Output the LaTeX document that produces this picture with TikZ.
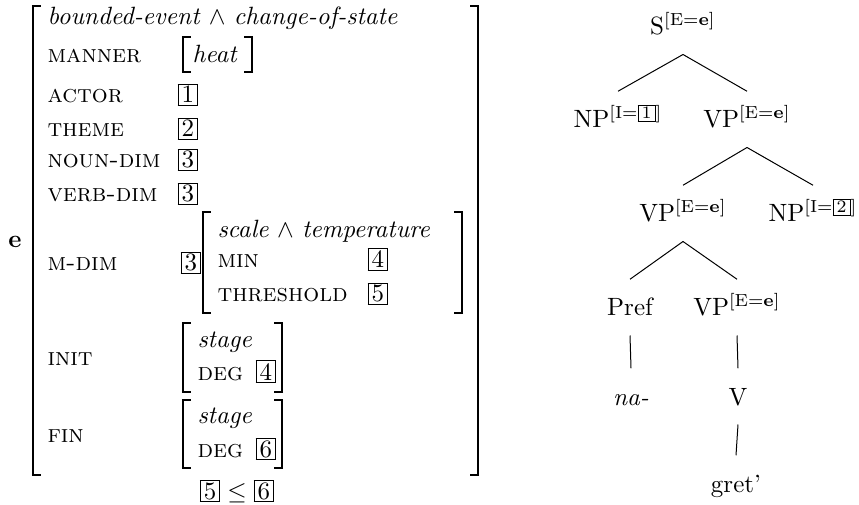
\documentclass[tikz,border=0pt]{standalone}
\usepackage{amsmath}
\usepackage{amssymb}
\usepackage{tikz}
\usetikzlibrary{positioning}
\tikzset{
	lbl/.style={inner sep=0pt, anchor=base west},
	tnode/.style={inner sep=0pt, anchor=base, text height=14.5pt, text depth=7.6pt},
	stem/.style={line width=1pt},
	hook/.style={line width=0.45pt}
}
\newcommand{\tagbox}[1]{{\fboxsep=0.7pt\fboxrule=0.4pt\fbox{\hspace{0.5pt}#1\hspace{0.5pt}}}}
% left x, right x, top y, bottom y
\newcommand{\avmbracks}[4]{%
	\draw[stem] (#1,#3) -- (#1,#4);
	\draw[hook] (#1-1.2,#3) -- (#1+8,#3) (#1-1.2,#4) -- (#1+8,#4);
	\draw[stem] (#2,#3) -- (#2,#4);
	\draw[hook] (#2+1.2,#3) -- (#2-8,#3) (#2+1.2,#4) -- (#2-8,#4);
}

\begin{document}
\begin{tikzpicture}[x=0.4pt,y=-0.4pt]
\useasboundingbox (0,0) rectangle (859,505);

%AVM
\node[inner sep=0pt, anchor=base] (ev) at (15,248) {\textbf{e}};
\node[lbl] (sort) at (47,25) {\textit{bounded-event} $\wedge$ \textit{change-of-state}};
\node[lbl] (manner) at (47,63) {\textsc{manner}};
\node[lbl] (heat) at (192,63) {\textit{heat}};
\node[lbl] (actor) at (47,103) {\textsc{actor}};
\node[lbl] (actorv) at (177,103) {\tagbox{1}};
\node[lbl] (theme) at (47,137) {\textsc{theme}};
\node[lbl] (themev) at (177,137) {\tagbox{2}};
\node[lbl] (noun) at (47,168) {\textsc{noun-dim}};
\node[lbl] (nounv) at (177,168) {\tagbox{3}};
\node[lbl] (verb) at (47,202) {\textsc{verb-dim}};
\node[lbl] (verbv) at (177,202) {\tagbox{3}};
\node[lbl] (mdim) at (47,271) {\textsc{m-dim}};
\node[lbl] (mdimv) at (180,271) {\tagbox{3}};

%M-DIM value
\node[lbl] (scale) at (217,238) {\textit{scale} $\wedge$ \textit{temperature}};
\node[lbl] (min) at (217,268) {\textsc{min}};
\node[lbl] (minv) at (367,268) {\tagbox{4}};
\node[lbl] (thr) at (217,302) {\textsc{threshold}};
\node[lbl] (thrv) at (367,302) {\tagbox{5}};

%INIT et FIN
\node[lbl] (init) at (47,365) {\textsc{init}};
\node[lbl] (stagei) at (197,347) {\textit{stage}};
\node[lbl] (degi) at (197,380) {\textsc{deg}};
\node[lbl] (degiv) at (255,380) {\tagbox{4}};
\node[lbl] (fin) at (47,442) {\textsc{fin}};
\node[lbl] (stagef) at (197,423) {\textit{stage}};
\node[lbl] (degf) at (197,457) {\textsc{deg}};
\node[lbl] (degfv) at (255,457) {\tagbox{6}};

\node[inner sep=0pt, anchor=base] (cond) at (237,499) {$\tagbox{5}\leq\tagbox{6}$};

%Crochets
\avmbracks{33}{478}{6}{475}
\avmbracks{183}{252}{37}{72}
\avmbracks{203}{462}{212}{313}
\avmbracks{183}{282}{323}{392}
\avmbracks{183}{282}{400}{468}

%Arbre
\node[tnode] (s) at (683,35) {S\textsuperscript{[E=\textbf{e}]}};
\node[tnode] (np1) at (618,128) {NP\textsuperscript{[I=\tagbox{1}]}};
\node[tnode] (vp1) at (747,128) {VP\textsuperscript{[E=\textbf{e}]}};
\node[tnode] (vp2) at (683,222) {VP\textsuperscript{[E=\textbf{e}]}};
\node[tnode] (np2) at (813,222) {NP\textsuperscript{[I=\tagbox{2}]}};
\node[tnode] (pref) at (630,316) {Pref};
\node[tnode] (vp3) at (737,316) {VP\textsuperscript{[E=\textbf{e}]}};
\node[tnode] (na) at (631,405) {\textit{na-}};
\node[tnode] (v) at (738,405) {V};
\node[tnode] (gret) at (736,492) {gret'};

\foreach \a/\b in {s/np1, s/vp1, vp1/vp2, vp1/np2, vp2/pref, vp2/vp3, pref/na, vp3/v, v/gret}
	\draw (\a.south) -- (\b.north);

\end{tikzpicture}
\end{document}
